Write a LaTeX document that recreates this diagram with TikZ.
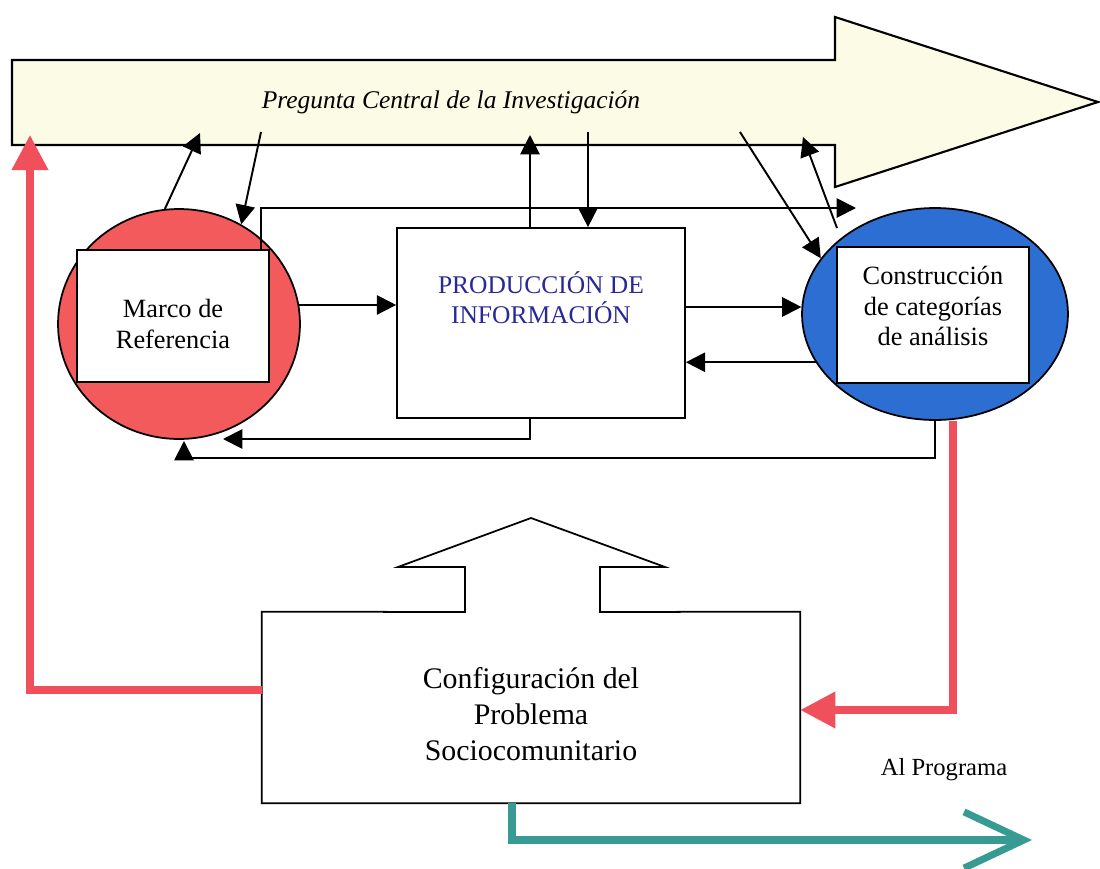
\documentclass[tikz,border=0pt]{standalone}
\usepackage{fontspec}
\setmainfont{Liberation Serif}
\usetikzlibrary{shapes.geometric,arrows.meta}

\definecolor{rojo}{RGB}{242,90,92}
\definecolor{azul}{RGB}{45,110,210}
\definecolor{crema}{RGB}{251,251,230}
\definecolor{linea}{RGB}{240,80,92}
\definecolor{verde}{RGB}{55,155,148}
\definecolor{tinta}{RGB}{40,40,150}

\tikzset{
  caja/.style={draw, line width=1pt, fill=white, rectangle, inner sep=0pt},
  texto/.style={align=center, font=\fontsize{15}{17.5}\selectfont},
  bola/.style={draw, line width=1pt, ellipse, inner sep=0pt},
  grande/.style={draw, line width=1.2pt, fill=crema},
  flecha/.style={line width=1.1pt, -{Triangle[length=11pt,width=11pt]}},
  roja/.style={draw=linea, line width=4pt, -{Triangle[length=20pt,width=20pt]}},
  salida/.style={draw=verde, line width=4pt, -{Straight Barb[length=34pt,width=32pt]}}
}

\begin{document}
\begin{tikzpicture}[x=0.02cm, y=-0.02cm]
  \useasboundingbox (0,0) rectangle (1100,869);

  % flecha grande
  \draw[grande] (12,60) -- (835,60) -- (835,17) -- (1098,102) -- (835,187)
    -- (835,145) -- (12,145) -- cycle;
  \node[font=\itshape\fontsize{14.5}{17}\selectfont] (preg) at (451,102)
    {Pregunta Central de la Investigación};

  \coordinate (q0) at (30,135);
  \coordinate (q1) at (200,133);
  \coordinate (q2) at (261,132);
  \coordinate (q4) at (530,135);
  \coordinate (q5) at (588,132);
  \coordinate (q11) at (740,132);
  \coordinate (q12) at (803,137);

  \node[bola, fill=rojo, minimum width=4.84cm, minimum height=4.6cm] (marcoC) at (179,324) {};
  \node[caja, minimum width=3.84cm, minimum height=2.64cm] (marco) at (173,316) {};
  \node[texto] (marcotxt) at (173,324) {Marco de\\Referencia};

  \node[caja, minimum width=5.76cm, minimum height=3.8cm] (prod) at (541,323) {};
  \node[texto, text=tinta, font=\fontsize{14.5}{17}\selectfont] (prodtxt) at (541,298)
    {PRODUCCIÓN DE\\INFORMACIÓN};

  \node[bola, fill=azul, minimum width=5.32cm, minimum height=4.24cm] (categC) at (935,314) {};
  \node[caja, minimum width=3.84cm, minimum height=2.72cm] (categ) at (933,315) {};
  \node[texto] (categtxt) at (933,306) {Construcción\\de categorías\\de análisis};

  \node[inner sep=0pt, minimum width=10.76cm, minimum height=3.82cm] (config) at (531,707.5) {};
  \node[texto, font=\fontsize{17}{20.5}\selectfont] (configtxt) at (531,714)
    {Configuración del\\Problema\\Sociocomunitario};
  \draw[line width=1pt] (config.north west) -- (465,612) -- (465,567) -- (398,567)
    -- (531,518) -- (665,567) -- (600,567) -- (600,612) -- (config.north east)
    -- (config.south east) -- (config.south west) -- cycle;

  % conectores
  \coordinate (c3) at (261,208);
  \coordinate (c3e) at (856,208);
  \coordinate (c9) at (223,439);
  \coordinate (c10) at (184,458);
  \coordinate (c10t) at (184,441);
  \coordinate (c12) at (837,228);

  \draw[flecha] (marcoC.97) -- (q1);
  \draw[flecha] (q2) -- (marcoC.58);
  \draw[flecha] (marco.north -| c3) -- (c3) -- (c3e);
  \draw[flecha] (prod.north -| q4) -- (q4);
  \draw[flecha] (q5) -- (prod.north -| q5);
  \draw[flecha] (marcoC.9) -- (marcoC.9 -| prod.west);
  \draw[flecha] (categC.177 -| prod.east) -- (categC.177);
  \draw[flecha] (categC.202) -- (categC.202 -| prod.east);
  \draw[flecha] (prod.south -| q4) |- (c9);
  \draw[flecha] (categC.south) |- (c10) -- (c10t);
  \draw[flecha] (q11) -- (categC.154);
  \draw[flecha] (c12) -- (q12);

  \coordinate (r1) at (30,690);
  \coordinate (r2) at (953,710);
  \draw[roja] (config.west |- r1) -- (r1) -- (q0);
  \draw[roja] (categC.south -| r2) -- (r2) -- (config.east |- r2);

  \coordinate (t1) at (512,840);
  \coordinate (t2) at (1032,840);
  \draw[salida] (config.south -| t1) -- (t1) -- (t2);
  \node[font=\fontsize{14}{16}\selectfont] (alprog) at (944,770) {Al Programa};
\end{tikzpicture}
\end{document}
